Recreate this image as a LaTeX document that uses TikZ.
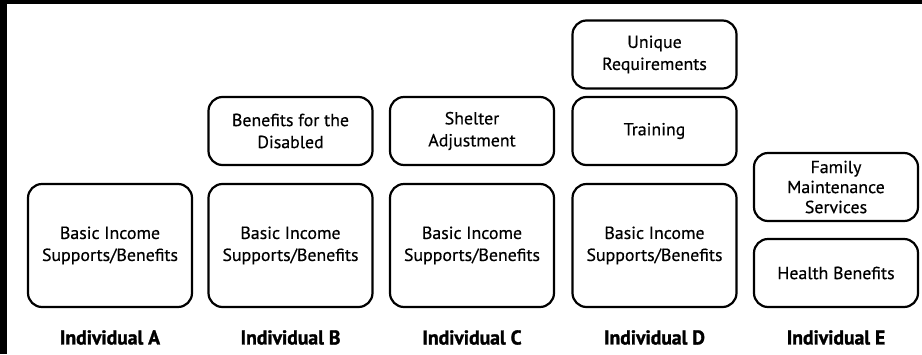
\documentclass[tikz,border=0pt]{standalone}
\usepackage{fontspec}
\setmainfont{PT Sans}
\newfontfamily\boxfont{PT Sans}[FakeStretch=1.02,FakeBold=0.5]
\newfontfamily\labfont{PT Sans Bold}[FakeStretch=0.98,FakeBold=1.5]
\begin{document}
\begin{tikzpicture}[x=1pt,y=-1pt,
  box/.style={draw, line width=2.2pt, rounded corners=14pt, align=center,
    font=\boxfont\fontsize{17.5}{22}\selectfont, minimum width=164pt, inner sep=2pt},
  big/.style={box, minimum height=123pt},
  small/.style={box, minimum height=68pt},
  lab/.style={font=\labfont\fontsize{20}{24}\selectfont}]
\useasboundingbox (0,0) rectangle (922,354);
\fill[black] (0,0) rectangle (922,4);
\fill[black] (0,0) rectangle (7,354);
% Individual A
\node[big] (a1) at (110,245.5) {Basic Income\\Supports/Benefits};
\node[lab] (la) at (110,337.5) {Individual A};
% Individual B
\node[big] (b1) at (290.5,245.5) {Basic Income\\Supports/Benefits};
\node[small] (b2) at (290.5,131) {Benefits for the\\Disabled};
\node[lab] (lb) at (290.5,337.5) {Individual B};
% Individual C
\node[big] (c1) at (472,245.5) {Basic Income\\Supports/Benefits};
\node[small] (c2) at (472,131) {Shelter\\Adjustment};
\node[lab] (lc) at (472,337.5) {Individual C};
% Individual D
\node[big] (d1) at (654.5,245.5) {Basic Income\\Supports/Benefits};
\node[small] (d2) at (654.5,131) {Training};
\node[small] (d3) at (654.5,54.5) {Unique\\Requirements};
\node[lab] (ld) at (654.5,337.5) {Individual D};
% Individual E
\node[small] (e1) at (836,273) {Health Benefits};
\node[small, font=\boxfont\fontsize{17.5}{20}\selectfont] (e2) at (836,187) {Family\\Maintenance\\Services};
\node[lab] (le) at (836,337.5) {Individual E};
\end{tikzpicture}
\end{document}
